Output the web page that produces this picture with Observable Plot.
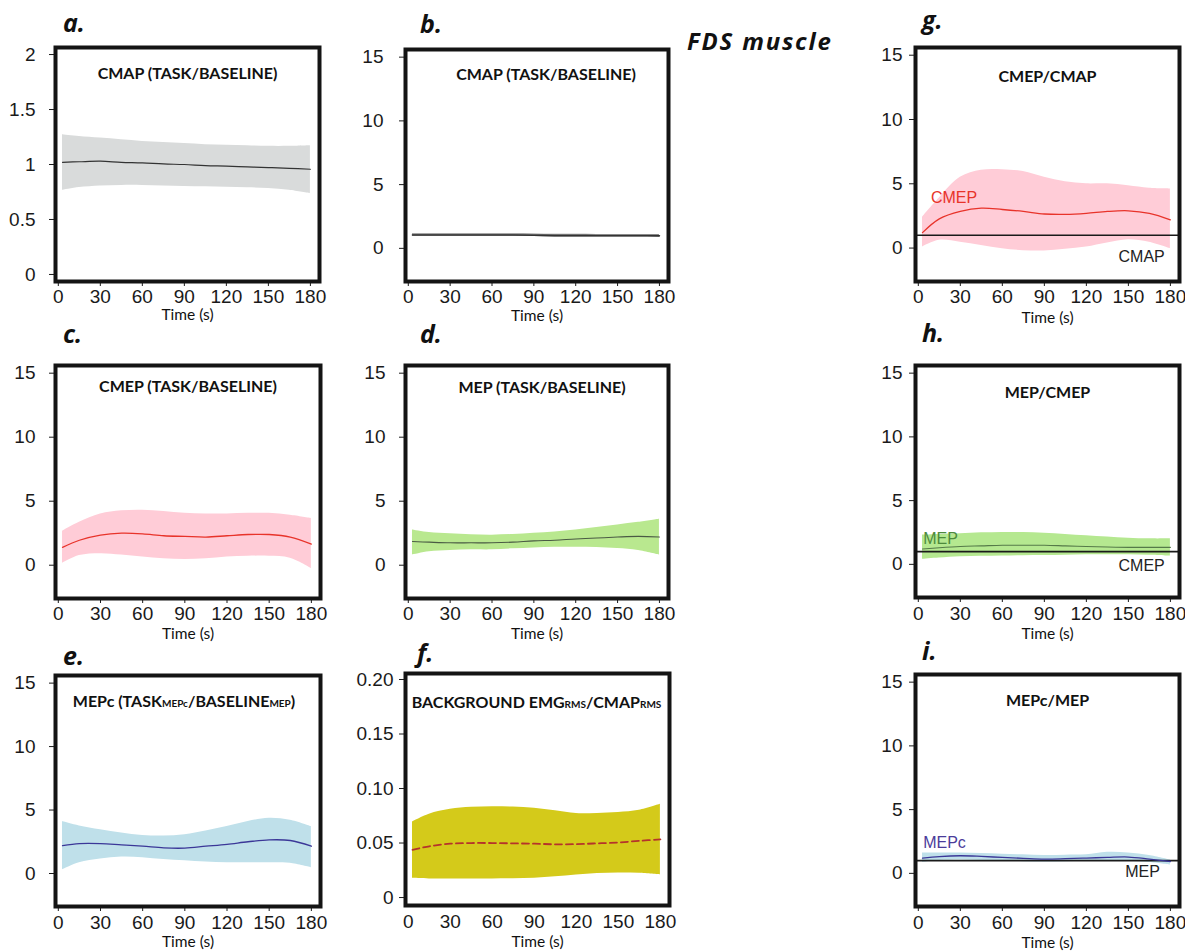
<!DOCTYPE html>
<html><head><meta charset="utf-8">
<script src="https://cdn.jsdelivr.net/npm/d3@7"></script>
<script src="https://cdn.jsdelivr.net/npm/@observablehq/plot@0.6"></script>
<style>
html,body{margin:0;padding:0;background:#fff;overflow:hidden}
#page{position:relative;width:1185px;height:951px;background:#fff}
#page svg{position:absolute}
</style></head><body><div id="page"></div>
<script>
// ---------------- DATA ----------------
const time = [3, 15, 30, 45, 60, 75, 90, 105, 120, 135, 150, 165, 180];
const xTicks = [0, 30, 60, 90, 120, 150, 180];
const yTicks15 = [0, 5, 10, 15];
const yTicksA = [0, 0.5, 1, 1.5, 2];
const yTicksF = [0, 0.05, 0.10, 0.15, 0.20];

// a. CMAP (task/baseline)
const aMean = [1.02, 1.025, 1.03, 1.02, 1.015, 1.005, 1.0, 0.99, 0.985, 0.978, 0.972, 0.965, 0.957];
const aHigh = [1.27, 1.255, 1.24, 1.225, 1.21, 1.2, 1.19, 1.18, 1.175, 1.17, 1.165, 1.165, 1.17];
const aLow  = [0.765, 0.79, 0.805, 0.81, 0.81, 0.805, 0.8, 0.797, 0.793, 0.788, 0.782, 0.765, 0.735];
// b. CMAP (task/baseline), 0-15 scale
const bMean = [1.05, 1.05, 1.05, 1.05, 1.05, 1.05, 1.03, 1.0, 1.0, 0.99, 0.99, 0.99, 0.98];
const bHigh = [1.15, 1.15, 1.15, 1.15, 1.15, 1.15, 1.13, 1.1, 1.1, 1.09, 1.09, 1.09, 1.08];
const bLow  = [0.95, 0.95, 0.95, 0.95, 0.95, 0.95, 0.93, 0.9, 0.9, 0.89, 0.89, 0.89, 0.88];
// c. CMEP (task/baseline)
const cMean = [1.4, 1.95, 2.35, 2.5, 2.45, 2.3, 2.25, 2.2, 2.3, 2.4, 2.4, 2.2, 1.65];
const cHigh = [2.65, 3.35, 4.0, 4.25, 4.3, 4.2, 4.05, 4.0, 4.0, 4.05, 4.05, 3.9, 3.65];
const cLow  = [0.15, 0.75, 0.9, 0.8, 0.65, 0.5, 0.45, 0.5, 0.65, 0.7, 0.7, 0.55, -0.25];
// d. MEP (task/baseline)
const dMean = [1.85, 1.8, 1.75, 1.75, 1.75, 1.8, 1.9, 1.95, 2.05, 2.12, 2.2, 2.25, 2.2];
const dHigh = [2.75, 2.55, 2.45, 2.38, 2.35, 2.4, 2.5, 2.6, 2.75, 2.95, 3.15, 3.35, 3.6];
const dLow  = [0.8, 1.05, 1.15, 1.2, 1.2, 1.28, 1.35, 1.4, 1.4, 1.38, 1.3, 1.15, 0.8];
// e. MEPc (task_MEPc/baseline_MEP)
const eMean = [2.2, 2.35, 2.35, 2.25, 2.15, 2.02, 2.0, 2.15, 2.3, 2.5, 2.65, 2.6, 2.15];
const eHigh = [4.1, 3.75, 3.45, 3.2, 3.0, 2.95, 3.05, 3.35, 3.7, 4.1, 4.35, 4.2, 3.7];
const eLow  = [0.3, 0.85, 1.15, 1.3, 1.25, 1.1, 1.0, 0.9, 0.85, 0.85, 0.85, 0.8, 0.45];
// f. Background EMG_RMS / CMAP_RMS
const fMean = [0.0438, 0.047, 0.0494, 0.05, 0.05, 0.0497, 0.0494, 0.0488, 0.049, 0.0497, 0.0505, 0.052, 0.0534];
const fHigh = [0.0694, 0.0765, 0.081, 0.0828, 0.0833, 0.083, 0.082, 0.0795, 0.077, 0.0772, 0.078, 0.080, 0.0855];
const fLow  = [0.0176, 0.017, 0.017, 0.017, 0.017, 0.0172, 0.0176, 0.019, 0.0207, 0.022, 0.0225, 0.0222, 0.0207];
// g. CMEP/CMAP
const gMean = [1.2, 2.27, 2.85, 3.1, 3.0, 2.85, 2.65, 2.62, 2.7, 2.85, 2.9, 2.7, 2.2];
const gHigh = [2.4, 3.9, 5.5, 6.05, 6.1, 5.95, 5.5, 5.15, 5.0, 5.0, 4.85, 4.65, 4.6];
const gLow  = [0.08, 0.6, 0.45, 0.2, -0.05, -0.2, -0.23, -0.1, 0.08, 0.4, 0.65, 0.45, -0.05];
// h. MEP/CMEP
const hMean = [1.2, 1.3, 1.4, 1.45, 1.5, 1.5, 1.5, 1.45, 1.4, 1.36, 1.33, 1.33, 1.33];
const hHigh = [2.3, 2.35, 2.4, 2.47, 2.5, 2.5, 2.45, 2.35, 2.25, 2.15, 2.05, 2.0, 2.0];
const hLow  = [0.4, 0.5, 0.6, 0.63, 0.65, 0.68, 0.7, 0.72, 0.75, 0.75, 0.75, 0.72, 0.65];
// i. MEPc/MEP
const iMean = [1.2, 1.32, 1.38, 1.33, 1.25, 1.18, 1.12, 1.15, 1.2, 1.25, 1.28, 1.12, 0.93];
const iHigh = [1.6, 1.6, 1.6, 1.55, 1.5, 1.45, 1.4, 1.42, 1.45, 1.65, 1.6, 1.4, 1.05];
const iLow  = [0.85, 1.0, 1.05, 1.0, 0.95, 0.92, 0.9, 0.92, 0.95, 0.95, 0.95, 0.85, 0.65];

const refLevel = [1];
const gLabels = [{t: 9, v: 3.9, text: "CMEP"}, {t: 176, v: -0.7, text: "CMAP"}];
const hLabels = [{t: 3.5, v: 2.0, text: "MEP"}, {t: 176, v: -0.15, text: "CMEP"}];
const iLabels = [{t: 3.5, v: 2.4, text: "MEPc"}, {t: 172.5, v: 0.1, text: "MEP"}];

// ---------------- LAYOUT / STYLE ----------------
const M = {l: 60, r: 4, t: 10, b: 50};
const SW = 4; // frame stroke
const xDomain = [-2, 186.5];
const y15 = [-2.6, 15.6];
const TITLE_FONT = "Lato, 'Open Sans', sans-serif";
const TICK_FONT = "'Liberation Sans', Arial, sans-serif";

const panels = [
  {letter: "a.", lx: 63, ly: 32, box: [53, 45, 321, 283], y: [-0.064, 2.064], yt: yTicksA,
   title: [["CMAP (TASK/BASELINE)"]], tdy: 26, tdx: 0, timeDy: 34, xts: 5, xtp: 3, ytp: 14,
   mean: aMean, hi: aHigh, lo: aLow, band: "#d9dbdb", line: "#333", lw: 1.2},
  {letter: "b.", lx: 420, ly: 33, box: [403, 47, 670, 283], y: y15, yt: yTicks15,
   title: [["CMAP (TASK/BASELINE)"]], tdy: 25, tdx: 9, timeDy: 35, xts: 5, xtp: 3, ytp: 16,
   mean: bMean, hi: bHigh, lo: bLow, band: "#8a8a8a", line: "#333", lw: 1.6},
  {letter: "g.", lx: 922, ly: 29, box: [913, 45, 1181, 283], y: y15, yt: yTicks15,
   title: [["CMEP/CMAP"]], tdy: 29, tdx: 0, timeDy: 37, xts: 5, xtp: 3, ytp: 7,
   mean: gMean, hi: gHigh, lo: gLow, band: "#ffccd7", line: "#e8332a", lw: 1.3,
   ref: true, labels: gLabels, labelColors: ["#e8332a", "#222"]},
  {letter: "c.", lx: 63, ly: 343, box: [53, 363, 322, 600], y: y15, yt: yTicks15,
   title: [["CMEP (TASK/BASELINE)"]], tdy: 21, tdx: 0, timeDy: 36, xts: 5, xtp: 3, ytp: 14,
   mean: cMean, hi: cHigh, lo: cLow, band: "#ffccd7", line: "#e8332a", lw: 1.3},
  {letter: "d.", lx: 420, ly: 343, box: [403, 363, 670, 600], y: y15, yt: yTicks15,
   title: [["MEP (TASK/BASELINE)"]], tdy: 22, tdx: 5, timeDy: 36, xts: 5, xtp: 3, ytp: 14,
   mean: dMean, hi: dHigh, lo: dLow, band: "#b9e88f", line: "#4a5a44", lw: 1.1},
  {letter: "h.", lx: 922, ly: 342, box: [913, 363, 1181, 599], y: y15, yt: yTicks15,
   title: [["MEP/CMEP"]], tdy: 27, tdx: 0, timeDy: 37, xts: 5, xtp: 4, ytp: 7,
   mean: hMean, hi: hHigh, lo: hLow, band: "#b5e890", line: "#557a48", lw: 1.1,
   ref: true, labels: hLabels, labelColors: ["#4d8a3c", "#222"]},
  {letter: "e.", lx: 63, ly: 665, box: [53, 673, 322, 908], y: y15, yt: yTicks15,
   title: [["MEPc (TASK"], ["MEPc", true], ["/BASELINE"], ["MEP", true], [")"]], tdy: 26, tdx: -4, timeDy: 36, xts: 5, xtp: 4, ytp: 14,
   mean: eMean, hi: eHigh, lo: eLow, band: "#bfe0ea", line: "#3b3798", lw: 1.3},
  {letter: "f.", lx: 417, ly: 662, box: [403, 671, 671, 907], y: [-0.0073, 0.2055], yt: yTicksF,
   title: [["BACKGROUND EMG"], ["RMS", true], ["/CMAP"], ["RMS", true]], tdy: 29, tdx: -1, timeDy: 37, xts: 0, xtp: 9, ytp: 6,
   mean: fMean, hi: fHigh, lo: fLow, band: "#d4ca1a", line: "#b5332b", lw: 1.8, dash: "7,4",
   yfmt: d => d === 0 ? "0" : d.toFixed(2)},
  {letter: "i.", lx: 922, ly: 660, box: [913, 672, 1181, 908], y: y15, yt: yTicks15,
   title: [["MEPc/MEP"]], tdy: 26, tdx: 0, timeDy: 37, xts: 5, xtp: 4, ytp: 7,
   mean: iMean, hi: iHigh, lo: iLow, band: "#bfe0ea", line: "#3b3798", lw: 1.3,
   ref: true, labels: iLabels, labelColors: ["#4b3c9a", "#222"]}
];

const page = document.getElementById("page");

for (const p of panels) {
  const rows = time.map((t, k) => ({t, mean: p.mean[k], hi: p.hi[k], lo: p.lo[k]}));
  const [x0, y0, x1, y1] = p.box;
  const innerW = x1 - x0 - SW, innerH = y1 - y0 - SW;
  const titleStr = p.title.map(d => d[0]).join("");
  const marks = [
    Plot.areaY(rows, {x: "t", y1: "lo", y2: "hi", fill: p.band, curve: "catmull-rom"})
  ];
  if (p.ref) marks.push(Plot.ruleY(refLevel, {stroke: "#1a1a1a", strokeWidth: 1.6}));
  marks.push(Plot.line(rows, {x: "t", y: "mean", stroke: p.line, strokeWidth: p.lw,
    strokeDasharray: p.dash, curve: "catmull-rom"}));
  if (p.labels) {
    p.labels.forEach((lab, k) => {
      marks.push(Plot.text([lab], {x: "t", y: "v", text: "text", fill: p.labelColors[k],
        textAnchor: k === 0 ? "start" : "end", lineAnchor: "middle", fontSize: 16, fontFamily: TICK_FONT}));
    });
  }
  marks.push(Plot.text([titleStr], {text: d => d, frameAnchor: "top", lineAnchor: "middle",
    dy: p.tdy, dx: p.tdx, fontFamily: TITLE_FONT, fontWeight: "bold", fontSize: 16, fill: "#111"}));
  marks.push(Plot.text(["Time (s)"], {text: d => d, frameAnchor: "bottom", lineAnchor: "middle",
    dy: p.timeDy, fontFamily: TITLE_FONT, fontSize: 15.5, fill: "#111"}));
  marks.push(Plot.frame({stroke: "#141414", strokeWidth: SW}));

  const svg = Plot.plot({
    width: innerW + M.l + M.r,
    height: innerH + M.t + M.b,
    marginLeft: M.l, marginRight: M.r, marginTop: M.t, marginBottom: M.b,
    style: {background: "transparent", overflow: "visible", fontFamily: TICK_FONT, fontSize: "19px", color: "#1a1a1a"},
    x: {domain: xDomain, ticks: xTicks, tickSize: p.xts, tickPadding: p.xtp, label: null},
    y: {domain: p.y, ticks: p.yt, tickSize: 6, tickPadding: p.ytp, label: null,
        tickFormat: p.yfmt || (d => String(d))},
    marks
  });
  svg.style.left = (x0 + SW / 2 - M.l) + "px";
  svg.style.top = (y0 + SW / 2 - M.t) + "px";
  svg.style.maxWidth = "none";

  // subscript parts in titles
  if (p.title.length > 1) {
    d3.select(svg).selectAll("text").filter(function () { return this.textContent === titleStr; })
      .each(function () {
        const t = d3.select(this);
        t.text(null);
        p.title.forEach(([s, sub]) => {
          const ts = t.append("tspan").text(s);
          if (sub) ts.attr("font-size", 10);
        });
      });
  }
  page.appendChild(svg);
}

// panel letters and main heading
const overlay = d3.select(page).append("svg")
  .attr("width", 1185).attr("height", 951)
  .style("left", "0px").style("top", "0px").style("pointer-events", "none");
overlay.selectAll("text.letter").data(panels).join("text")
  .attr("class", "letter")
  .attr("x", d => d.lx).attr("y", d => d.ly)
  .attr("font-family", "'Open Sans', Lato, sans-serif")
  .attr("font-weight", "bold").attr("font-style", "italic").attr("font-size", 25)
  .attr("fill", "#111")
  .text(d => d.letter);
overlay.append("text")
  .attr("x", 687).attr("y", 50)
  .attr("font-family", "'Open Sans', Lato, sans-serif")
  .attr("font-weight", "bold").attr("font-style", "italic").attr("font-size", 24)
  .attr("letter-spacing", 1.8)
  .attr("fill", "#111")
  .text("FDS muscle");
</script></body></html>
